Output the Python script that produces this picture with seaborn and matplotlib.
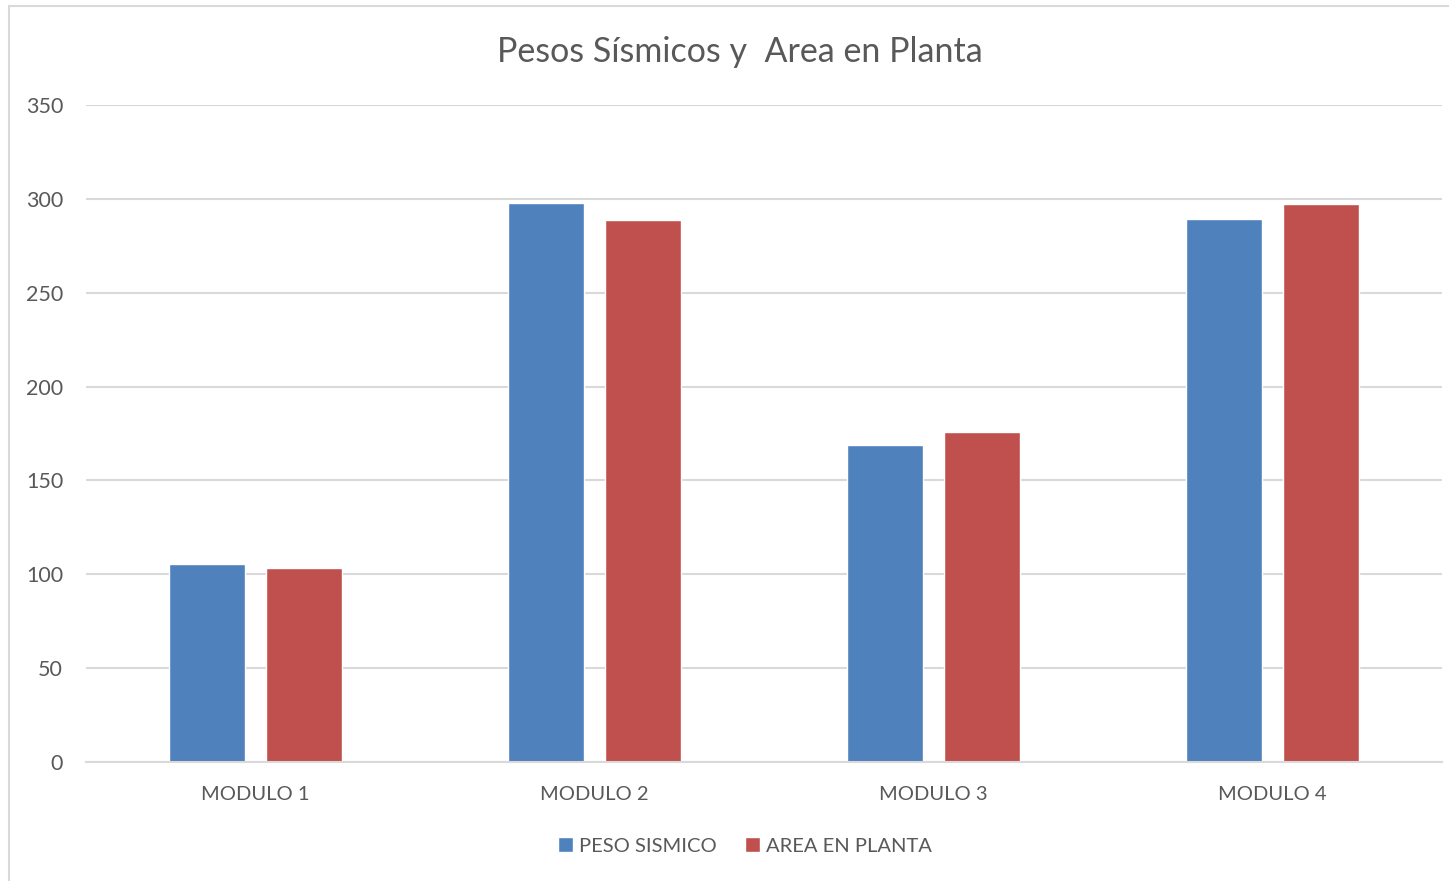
import matplotlib
matplotlib.use("Agg")
import matplotlib.pyplot as plt
import seaborn as sns
import pandas as pd
from matplotlib.patches import Rectangle

categories = ["MODULO 1", "MODULO 2", "MODULO 3", "MODULO 4"]
peso_sismico = [105.3, 298.0, 168.9, 289.1]
area_planta = [103.2, 288.8, 175.8, 297.4]
series_names = ["PESO SISMICO", "AREA EN PLANTA"]
yticks = [0, 50, 100, 150, 200, 250, 300, 350]

df = pd.DataFrame({
    "cat": categories * 2,
    "val": peso_sismico + area_planta,
    "serie": [series_names[0]] * 4 + [series_names[1]] * 4,
})

sns.set_theme(style="white")
plt.rcParams['font.family'] = ['Lato', 'DejaVu Sans']
text_col = "#595959"
grid_col = "#D9D9D9"

W, H = 1449, 881
fig = plt.figure(figsize=(W / 100, H / 100), dpi=100)
ax = fig.add_axes([86 / W, 119 / H, (1442 - 86) / W, (762 - 105) / H])

sns.barplot(data=df, x="cat", y="val", hue="serie", order=categories,
            hue_order=series_names, palette=["#4F81BD", "#C0504D"],
            width=0.57, gap=0.21, ax=ax, legend=True, saturation=1)

ax.set_ylim(0, 350)
ax.set_yticks(yticks)
ax.set_xlim(-0.5, 3.5)
ax.yaxis.grid(True, color=grid_col, linewidth=1.5)
ax.set_axisbelow(True)
for s in ["top", "right", "left"]:
    ax.spines[s].set_visible(False)
ax.spines["bottom"].set_color(grid_col)
ax.spines["bottom"].set_linewidth(1.5)
ax.tick_params(axis="y", length=0, pad=16.5, labelsize=15.5, labelcolor=text_col)
ax.tick_params(axis="x", length=0, pad=17.5, labelsize=14.5, labelcolor=text_col)
ax.set_xlabel("")
ax.set_ylabel("")

ax.legend_.remove()
handles, labels = ax.get_legend_handles_labels()
fig.legend(handles, labels, loc="center", bbox_to_anchor=(745 / W, 1 - 846 / H),
           ncol=2, frameon=False, fontsize=14.5, labelcolor=text_col,
           handlelength=0.75, handleheight=0.75, handletextpad=0.3, columnspacing=1.4)

fig.text(740 / W, 1 - 52 / H, "Pesos Sísmicos y  Area en Planta", ha="center", va="center",
         fontsize=24.5, color=text_col)

fig.patches.append(Rectangle((9 / W, -0.1), 1.2, 1 - 6 / H + 0.1, transform=fig.transFigure,
                             fill=False, edgecolor=grid_col, linewidth=1.5))

fig.savefig("out.png", dpi=100, facecolor="white")
